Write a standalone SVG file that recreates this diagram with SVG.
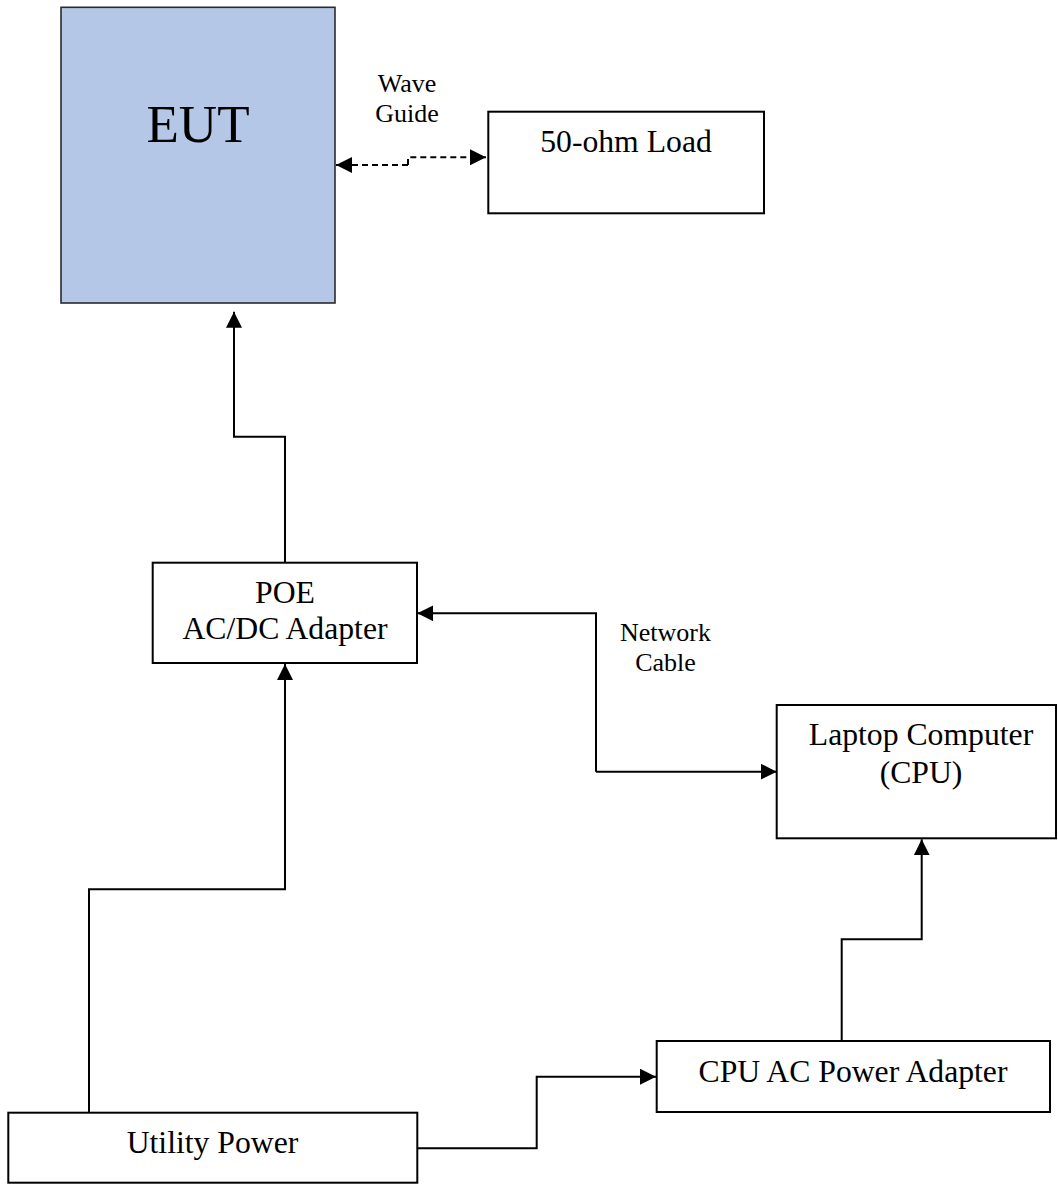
<svg xmlns="http://www.w3.org/2000/svg" width="1058" height="1184" viewBox="0 0 1058 1184">
<style>
.box{fill:#ffffff;stroke:#000000;stroke-width:2}
.eut{fill:#b4c7e7;stroke:#2b2b2b;stroke-width:1.6}
.t{font-family:"Liberation Serif","Times New Roman",serif;font-size:31.7px;fill:#000;text-anchor:middle}
.s{font-family:"Liberation Serif","Times New Roman",serif;font-size:26px;fill:#000;text-anchor:middle}
.big{font-family:"Liberation Serif","Times New Roman",serif;font-size:53px;fill:#000;text-anchor:middle}
.c{fill:none;stroke:#000;stroke-width:2}
.d{fill:none;stroke:#000;stroke-width:2;stroke-dasharray:6 4}
</style>
<defs>
<marker id="ah" viewBox="0 0 16 16" markerWidth="16" markerHeight="16" refX="16" refY="8" orient="auto" markerUnits="userSpaceOnUse">
<path d="M0,0 L16,8 L0,16 z" fill="#000"/>
</marker>
</defs>
<g id="eut">
<rect class="eut" x="61" y="7.3" width="274" height="295.7"/>
<text class="big" x="198" y="141.7">EUT</text>
</g>
<g id="load">
<rect class="box" x="488.3" y="111.7" width="275.7" height="101.6"/>
<text class="t" x="626" y="151.7">50-ohm Load</text>
</g>
<g id="poe">
<rect class="box" x="152.7" y="562.7" width="264.3" height="100.3"/>
<text class="t" x="285" y="603">POE</text>
<text class="t" x="285" y="639">AC/DC Adapter</text>
</g>
<g id="laptop">
<rect class="box" x="776.7" y="705" width="279.3" height="133.3"/>
<text class="t" x="921" y="745">Laptop Computer</text>
<text class="t" x="921" y="783.3">(CPU)</text>
</g>
<g id="cpuac">
<rect class="box" x="656.7" y="1041" width="393.3" height="71"/>
<text class="t" x="853" y="1081.7">CPU AC Power Adapter</text>
</g>
<g id="utility">
<rect class="box" x="8.3" y="1112.7" width="409" height="70"/>
<text class="t" x="212.5" y="1153">Utility Power</text>
</g>
<g id="labels">
<text class="s" x="407" y="91.7">Wave</text>
<text class="s" x="407" y="121.7">Guide</text>
<text class="s" x="665.5" y="640.7">Network</text>
<text class="s" x="665.5" y="670.7">Cable</text>
</g>
<g id="connectors">
<path class="d" d="M408,165 H336" marker-end="url(#ah)"/>
<path class="d" d="M408,165 V157.3 H486" marker-end="url(#ah)"/>
<path class="c" d="M285,562.7 V436.7 H234 V311.7" marker-end="url(#ah)"/>
<path class="c" d="M89,1112.7 V889.3 H285 V664" marker-end="url(#ah)"/>
<path class="c" d="M596,771.7 V613.3 H417.3" marker-end="url(#ah)"/>
<path class="c" d="M596,771.7 H776.7" marker-end="url(#ah)"/>
<path class="c" d="M841.7,1041 V939.3 H921.7 V839.3" marker-end="url(#ah)"/>
<path class="c" d="M417.3,1148.3 H536.7 V1076.7 H656" marker-end="url(#ah)"/>
</g>
</svg>
